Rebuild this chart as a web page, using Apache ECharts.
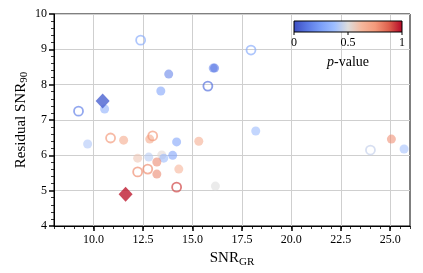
<!DOCTYPE html>
<html>
<head>
<meta charset="utf-8">
<script src="https://cdn.jsdelivr.net/npm/echarts@6/dist/echarts.min.js"></script>
<style>
html,body{margin:0;padding:0;background:#fff;}
#chart{width:423px;height:273px;}
</style>
</head>
<body>
<div id="chart"></div>
<script>
// ---- data ----
var filledX = [13.8, 16.05, 16.12, 13.4, 10.56, 9.7, 11.52, 12.84, 14.2, 15.32, 12.23, 12.79, 13.45, 13.55, 14.0, 13.2, 13.2, 14.31, 16.16, 18.2, 25.06, 25.7];
var filledY = [8.3, 8.47, 8.47, 7.82, 7.31, 6.32, 6.43, 6.46, 6.38, 6.4, 5.92, 5.95, 6.01, 5.92, 6.0, 5.81, 5.47, 5.61, 5.13, 6.69, 6.46, 6.18];
var filledP = [0.15, 0.18, 0.12, 0.25, 0.3, 0.4, 0.7, 0.7, 0.25, 0.68, 0.58, 0.42, 0.52, 0.35, 0.25, 0.8, 0.8, 0.65, 0.5, 0.35, 0.78, 0.38];

var openX = [12.38, 17.96, 15.78, 9.24, 10.86, 12.99, 12.23, 12.74, 14.2, 24.0];
var openY = [9.26, 8.98, 7.96, 7.25, 6.49, 6.55, 5.53, 5.61, 5.1, 6.15];
var openP = [0.3, 0.3, 0.1, 0.15, 0.75, 0.75, 0.78, 0.78, 0.92, 0.45];

var diamondX = [10.46, 11.62];
var diamondY = [7.54, 4.9];
var diamondP = [0.06, 0.97];

var xTicks = [10, 12.5, 15, 17.5, 20, 22.5, 25];
var cbTicks = [0, 0.5, 1];

// ---- coolwarm colormap ----
var cw = [
  [0.0, [59, 76, 192]], [0.125, [90, 120, 228]], [0.25, [123, 159, 249]],
  [0.375, [158, 190, 255]], [0.5, [221, 220, 220]], [0.625, [246, 183, 156]],
  [0.75, [244, 154, 123]], [0.875, [222, 96, 77]], [1.0, [180, 4, 38]]
];
function cmap(p, a) {
  p = Math.max(0, Math.min(1, p));
  for (var i = 0; i < cw.length - 1; i++) {
    if (p <= cw[i + 1][0]) {
      var t = (p - cw[i][0]) / (cw[i + 1][0] - cw[i][0]);
      var c = cw[i][1].map(function (v, k) { return Math.round(v + (cw[i + 1][1][k] - v) * t); });
      return 'rgba(' + c[0] + ',' + c[1] + ',' + c[2] + ',' + a + ')';
    }
  }
}

function build(xs, ys, ps, styleFn) {
  return xs.map(function (x, i) {
    return { value: [x, ys[i]], itemStyle: styleFn(ps[i]) };
  });
}

var chart = echarts.init(document.getElementById('chart'));
var serif = 'Liberation Serif';
var gridL = 54, gridR = 13, gridT = 14, gridB = 47;

var cbStops = cw.map(function (s) { return { offset: s[0], color: cmap(s[0], 1) }; });
var cbX = 294, cbY = 21, cbW = 108, cbH = 11;
var graphics = [
  { type: 'rect', shape: { x: cbX, y: cbY, width: cbW, height: cbH },
    style: { fill: new echarts.graphic.LinearGradient(0, 0, 1, 0, cbStops), stroke: '#000', lineWidth: 1 }, z: 100 }
];
cbTicks.forEach(function (t) {
  var px = cbX + t * cbW;
  graphics.push({ type: 'line', shape: { x1: px, y1: cbY + cbH, x2: px, y2: cbY + cbH + 3 }, style: { stroke: '#000', lineWidth: 1 }, z: 100 });
  graphics.push({ type: 'text', x: px, y: cbY + cbH + 5, style: { text: String(t), font: '12px ' + serif, fill: '#000', align: 'center', verticalAlign: 'top' }, z: 100 });
});
graphics.push({ type: 'text', x: cbX + cbW / 2, y: 55, style: { text: '{i|p}-value', rich: { i: { fontStyle: 'italic', fontFamily: serif, fontSize: 14 } }, font: '14px ' + serif, fill: '#000', align: 'center', verticalAlign: 'top' }, z: 100 });

var option = {
  animation: false,
  grid: { left: gridL, right: gridR, top: gridT, bottom: gridB, show: true, borderColor: '#000', borderWidth: 1, backgroundColor: 'transparent', containLabel: false, outerBoundsMode: 'none' },
  xAxis: [
    {
      type: 'value', min: 8, max: 26,
      name: '{a|SNR}{b|GR}', nameLocation: 'middle', nameGap: 22,
      nameTextStyle: { rich: { a: { fontFamily: serif, fontSize: 15, color: '#000' }, b: { fontFamily: serif, fontSize: 11, color: '#000', padding: [7, 0, 0, 0] } } },
      axisLine: { show: true, lineStyle: { color: '#000', width: 1 } },
      axisTick: { show: true, length: 5, customValues: xTicks, lineStyle: { color: '#000', width: 1.5 } },
      axisLabel: { customValues: xTicks, fontFamily: serif, fontSize: 12, color: '#000', margin: 8, formatter: function (v) { return v.toFixed(1); } },
      splitLine: { show: true, lineStyle: { color: '#cfcfcf', width: 1 } }
    },
    {
      type: 'value', min: 8, max: 26, interval: 0.5, position: 'bottom',
      axisLine: { show: false },
      axisTick: { show: true, length: 3, lineStyle: { color: '#000', width: 0.8 } },
      axisLabel: { show: false },
      splitLine: { show: false }
    }
  ],
  yAxis: {
    type: 'value', min: 4, max: 10, interval: 1,
    name: '{a|Residual SNR}{b|90}', nameLocation: 'middle', nameGap: 24, nameMoveOverlap: false,
    nameTextStyle: { rich: { a: { fontFamily: serif, fontSize: 15, color: '#000' }, b: { fontFamily: serif, fontSize: 11, color: '#000', padding: [7, 0, 0, 0] } } },
    axisLine: { show: true, lineStyle: { color: '#000', width: 1 } },
    axisTick: { show: true, length: 5, lineStyle: { color: '#000', width: 1.5 } },
    minorTick: { show: true, splitNumber: 5, length: 3, lineStyle: { color: '#000', width: 0.8 } },
    axisLabel: { fontFamily: serif, fontSize: 12, color: '#000', margin: 7 },
    splitLine: { show: true, lineStyle: { color: '#cfcfcf', width: 1 } }
  },
  graphic: graphics,
  series: [
    {
      type: 'scatter', symbol: 'circle', symbolSize: 9,
      data: build(filledX, filledY, filledP, function (p) { return { color: cmap(p, 0.72) }; })
    },
    {
      type: 'scatter', symbol: 'circle', symbolSize: 9,
      data: build(openX, openY, openP, function (p) { return { color: 'rgba(0,0,0,0)', borderColor: cmap(p, 0.85), borderWidth: 1.8 }; })
    },
    {
      type: 'scatter', symbol: 'diamond', symbolSize: [14, 15],
      data: build(diamondX, diamondY, diamondP, function (p) { return { color: cmap(p, 1) }; })
    }
  ]
};
chart.setOption(option);
</script>
</body>
</html>
